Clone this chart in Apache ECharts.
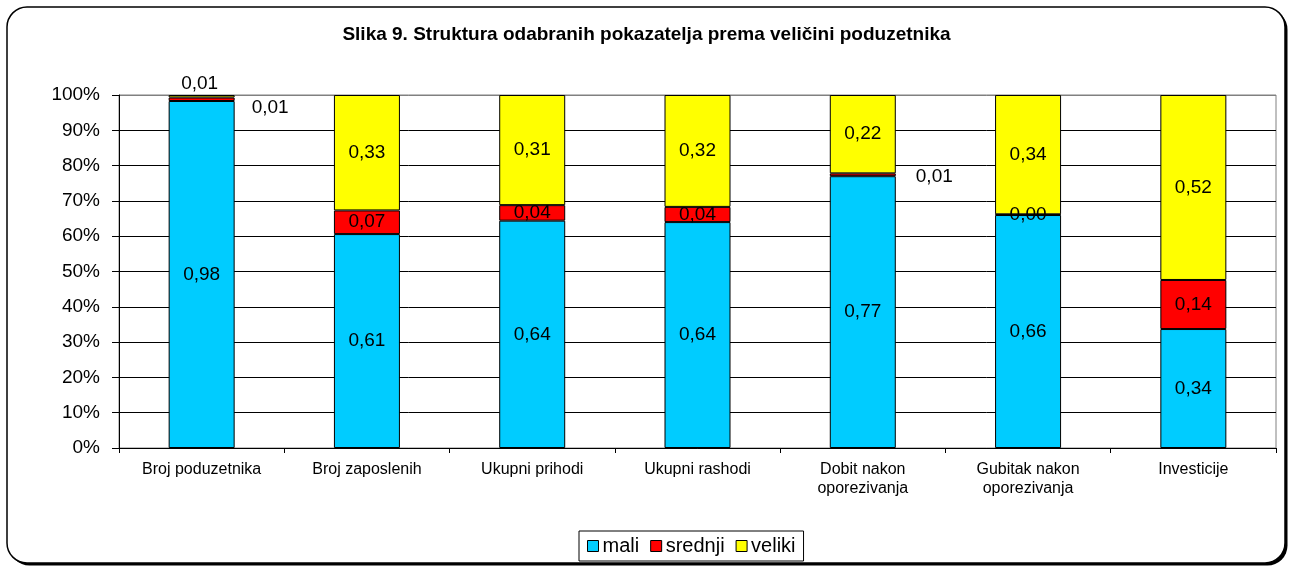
<!DOCTYPE html>
<html>
<head>
<meta charset="utf-8">
<script src="https://cdn.jsdelivr.net/npm/echarts@6/dist/echarts.min.js"></script>
<style>
  body { margin: 0; background: #fff; }
  #chart { width: 1293px; height: 569px; }
</style>
</head>
<body>
<div id="chart"></div>
<script>
const categories = [
  "Broj poduzetnika",
  "Broj zaposlenih",
  "Ukupni prihodi",
  "Ukupni rashodi",
  "Dobit nakon\noporezivanja",
  "Gubitak nakon\noporezivanja",
  "Investicije"
];
const mali = [0.983, 0.606, 0.644, 0.64, 0.77, 0.66, 0.337];
const srednji = [0.01, 0.067, 0.044, 0.043, 0.008, 0.002, 0.139];
const veliki = [0.007, 0.327, 0.312, 0.317, 0.222, 0.338, 0.524];
const yTicks = ["0%", "10%", "20%", "30%", "40%", "50%", "60%", "70%", "80%", "90%", "100%"];

const fmt = v => v.toFixed(2).replace(".", ",");
const font = "Liberation Sans, Arial, sans-serif";

// labels of thin slices are moved out of the bar, like in the original
function items(values, special) {
  return values.map((v, i) => {
    if (special[i]) return { value: v, label: special[i] };
    return v;
  });
}

const baseSeries = {
  type: "bar",
  stack: "total",
  barWidth: 66,
  itemStyle: { borderColor: "#000", borderWidth: 1 },
  label: {
    show: true,
    position: "inside",
    color: "#000",
    fontFamily: font,
    fontSize: 19,
    formatter: p => fmt(p.value)
  }
};

const chart = echarts.init(document.getElementById("chart"));
chart.setOption({
  animation: false,
  textStyle: { fontFamily: font },
  graphic: [
    {
      type: "rect",
      z: -11,
      shape: { x: 9.5, y: 9.5, width: 1278, height: 556, r: 20 },
      style: { fill: "#000" }
    },
    {
      type: "rect",
      z: -10,
      shape: { x: 7, y: 7, width: 1278, height: 556, r: 20 },
      style: { fill: "#fff", stroke: "#000", lineWidth: 1.5 }
    }
  ],
  title: {
    text: "Slika 9. Struktura odabranih pokazatelja prema veličini poduzetnika",
    left: "center",
    top: 20,
    textStyle: { fontFamily: font, fontSize: 19, fontWeight: "bold", color: "#000" }
  },
  grid: {
    left: 119,
    right: 17,
    top: 95,
    bottom: 121,
    show: true,
    borderColor: "#808080",
    borderWidth: 1
  },
  legend: {
    left: 579,
    top: 531,
    data: ["mali", "srednji", "veliki"],
    icon: "rect",
    itemWidth: 11,
    itemHeight: 11,
    itemGap: 11,
    borderColor: "#000",
    borderWidth: 1,
    padding: [5, 8],
    itemStyle: { borderColor: "#000", borderWidth: 1 },
    textStyle: { fontFamily: font, fontSize: 20, color: "#000", padding: [0, 0, 0, -1] }
  },
  xAxis: {
    type: "category",
    data: categories,
    axisLine: { lineStyle: { color: "#000", width: 1 } },
    axisTick: { show: true, length: 5, lineStyle: { color: "#000" } },
    axisLabel: {
      color: "#000",
      fontFamily: font,
      fontSize: 16,
      margin: 12,
      lineHeight: 19,
      interval: 0
    }
  },
  yAxis: {
    type: "value",
    min: 0,
    max: 1,
    interval: 0.1,
    axisLine: { show: true, lineStyle: { color: "#000", width: 1 } },
    axisTick: { show: true, length: 7, lineStyle: { color: "#000" } },
    axisLabel: {
      color: "#000",
      fontFamily: font,
      fontSize: 19,
      margin: 19,
      formatter: (v) => yTicks[Math.round(v * 10)]
    },
    splitLine: {
      show: true,
      lineStyle: {
        color: ["#000", "#000", "#000", "#000", "#000", "#000", "#000", "#000", "#000", "#000", "#808080"],
        width: 1
      }
    }
  },
  series: [
    Object.assign({}, baseSeries, {
      name: "mali",
      color: "#00CCFF",
      data: mali
    }),
    Object.assign({}, baseSeries, {
      name: "srednji",
      color: "#FF0000",
      data: items(srednji, {
        0: { position: "right", offset: [12, 9] },
        4: { position: "right", offset: [15, 2] }
      })
    }),
    Object.assign({}, baseSeries, {
      name: "veliki",
      color: "#FFFF00",
      data: items(veliki, { 0: { position: "top", offset: [-2, 3] } })
    })
  ]
});
</script>
</body>
</html>
